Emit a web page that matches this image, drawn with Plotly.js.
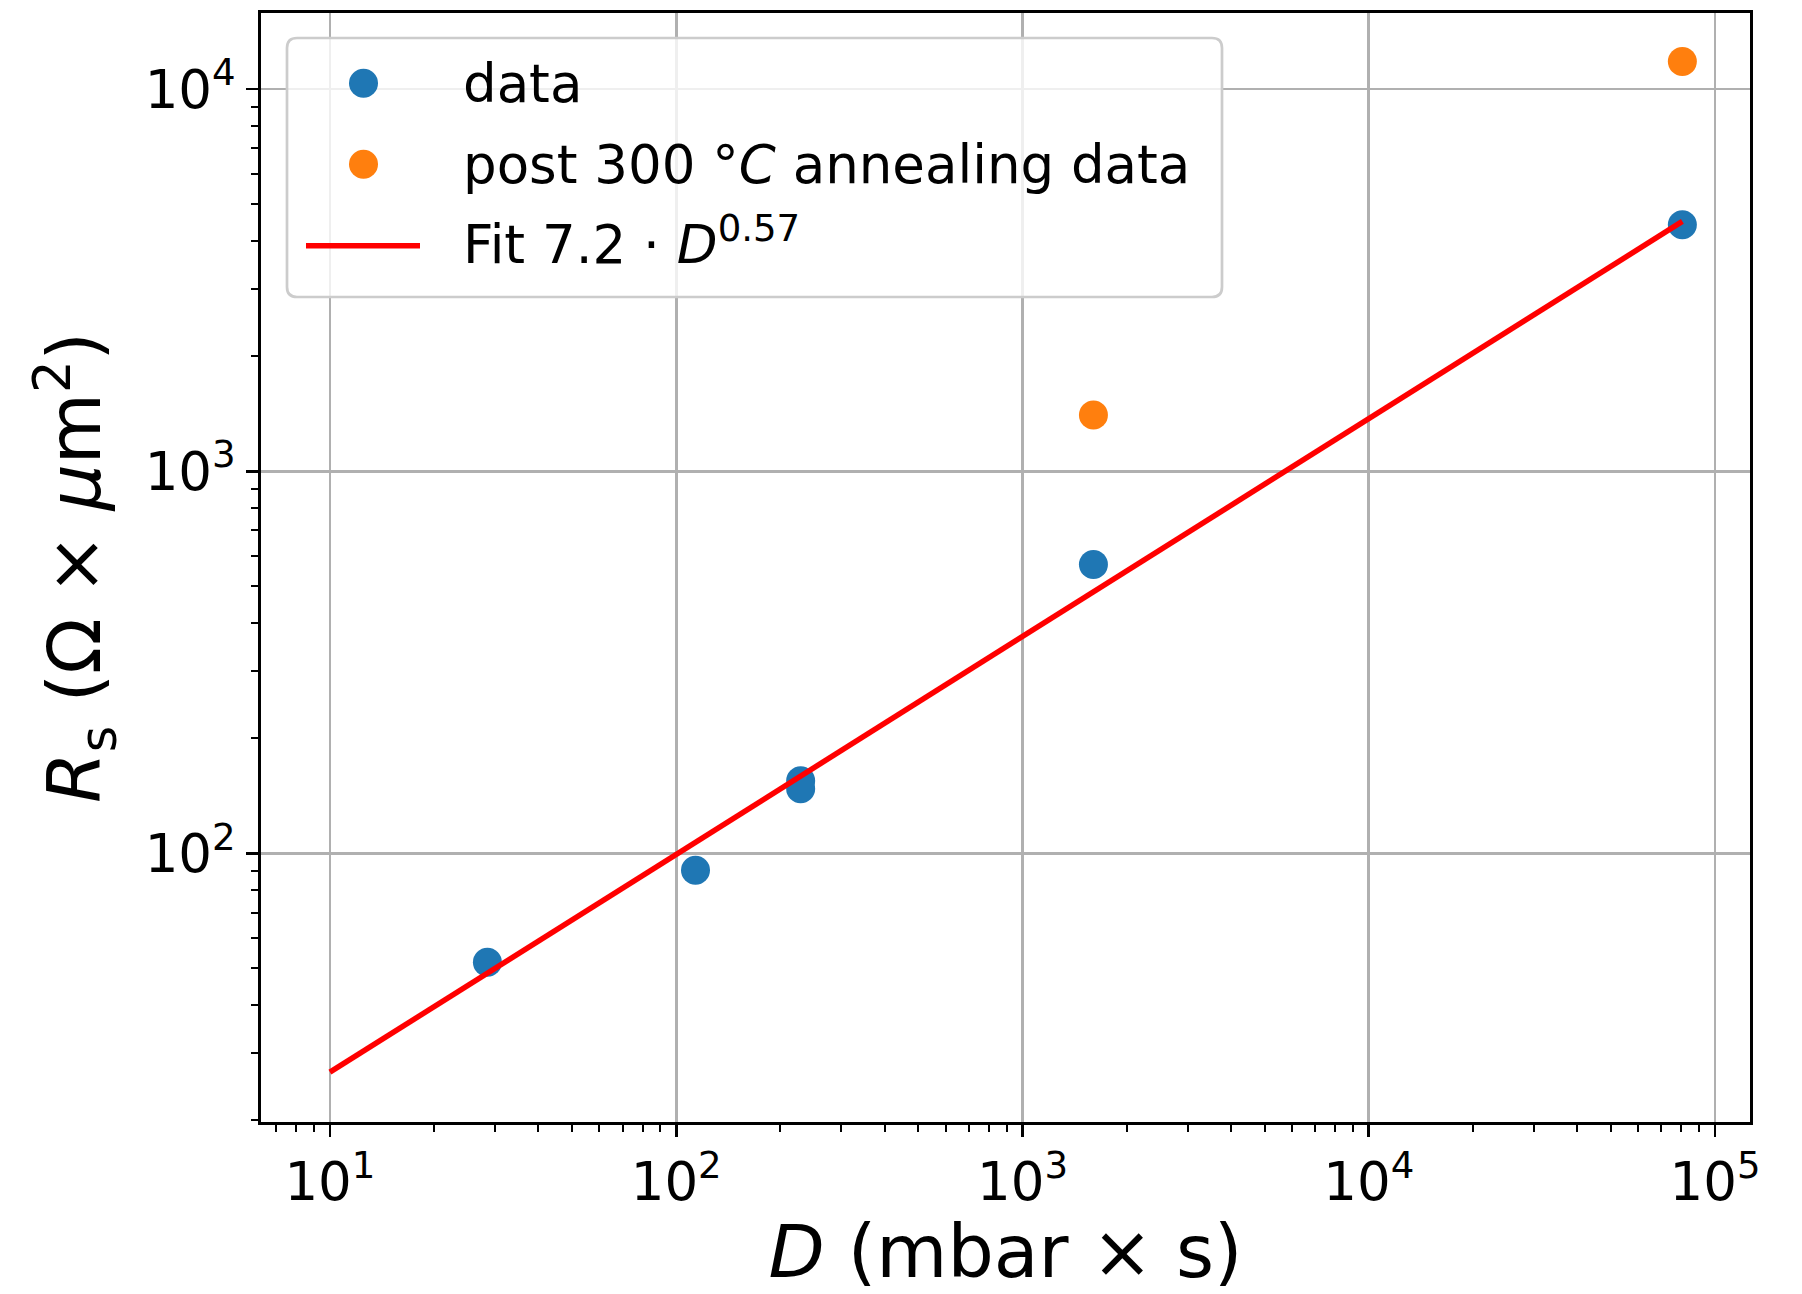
<!DOCTYPE html>
<html>
<head>
<meta charset="utf-8">
<script src="https://cdn.plot.ly/plotly-3.0.1.min.js"></script>
<style>
  html, body { margin: 0; padding: 0; background: #ffffff; }
  #chart { width: 1802px; height: 1294px; }
</style>
</head>
<body>
<div id="chart"></div>
<script>
// Sheet resistance vs. oxidation dose
const doseData = [28.5, 113.7, 228.8, 228.8, 1603, 80470];
const rsData = [51.9, 90.3, 154.8, 147.5, 570, 4416];

const doseAnnealed = [1603, 80470];
const rsAnnealed = [1404, 11810];

// Power-law fit Rs = 7.2 * D^0.57, drawn over the dose range below
const fitCoef = 7.2;
const fitExp = 0.57;
const fitDoseRange = [10, 80470];
const fitRs = fitDoseRange.map(d => fitCoef * Math.pow(d, fitExp));

// Axis ticks
const xTickVals = [10, 100, 1000, 10000, 100000];
const xTickText = ['10<sup>1</sup>', '10<sup>2</sup>', '10<sup>3</sup>', '10<sup>4</sup>', '10<sup>5</sup>'];
const yTickVals = [100, 1000, 10000];
const yTickText = ['10<sup>2</sup>', '10<sup>3</sup>', '10<sup>4</sup>'];

// Legend labels
const legendLabels = ['data', 'post 300 °<i>C</i> annealing data', 'Fit 7.2 · <i>D</i><sup>0.57</sup>'];

function minorLogTicks(loExp, hiExp) {
  const vals = [];
  for (let e = loExp; e <= hiExp; e++) {
    for (let m = 2; m <= 9; m++) vals.push(m * Math.pow(10, e));
  }
  return vals;
}

const FONT = 'DejaVu Sans, Verdana, sans-serif';
const BLUE = '#1f77b4';
const ORANGE = '#ff7f0e';
const RED = '#ff0000';
const MARKER_SIZE = 29;

const traces = [
  {
    x: doseData, y: rsData, type: 'scatter', mode: 'markers',
    name: legendLabels[0],
    marker: { color: BLUE, size: MARKER_SIZE }
  },
  {
    x: doseAnnealed, y: rsAnnealed, type: 'scatter', mode: 'markers',
    name: legendLabels[1],
    marker: { color: ORANGE, size: MARKER_SIZE }
  },
  {
    x: fitDoseRange, y: fitRs, type: 'scatter', mode: 'lines',
    name: legendLabels[2],
    line: { color: RED, width: 5.5 }
  }
];

const W = 1802, H = 1294;
const M = { l: 261, r: 52, t: 13, b: 172 };
const plotW = W - M.l - M.r;
const plotH = H - M.t - M.b;

// pixel position on the page -> paper fraction
const px = x => (x - M.l) / plotW;
const py = y => (H - M.b - y) / plotH;

// ---- legend box (rounded, semi-transparent) ----
const box = { l: 287, r: 1222, t: 38, b: 297, rad: 10 };
const rx = box.rad / plotW, ry = box.rad / plotH;
const L = px(box.l), R = px(box.r), T = py(box.t), B = py(box.b);
const boxPath =
  `M ${L + rx},${T} L ${R - rx},${T} Q ${R},${T} ${R},${T - ry} ` +
  `L ${R},${B + ry} Q ${R},${B} ${R - rx},${B} ` +
  `L ${L + rx},${B} Q ${L},${B} ${L},${B + ry} ` +
  `L ${L},${T - ry} Q ${L},${T} ${L + rx},${T} Z`;

const rowY = [83.3, 164.3, 245.7];
const rowTextShift = [0, 0, 5];
const symX = 363.5;
const lineX = [306, 420];
const textX = 461;

const shapes = [
  {
    type: 'path', xref: 'paper', yref: 'paper', path: boxPath,
    fillcolor: 'rgba(255,255,255,0.8)',
    line: { color: '#cccccc', width: 2.7 }, layer: 'above'
  }
];
[traces[0], traces[1]].forEach((tr, i) => {
  const r = MARKER_SIZE / 2;
  shapes.push({
    type: 'circle', xref: 'paper', yref: 'paper', layer: 'above',
    x0: px(symX - r), x1: px(symX + r), y0: py(rowY[i] + r), y1: py(rowY[i] - r),
    fillcolor: tr.marker.color, line: { width: 0 }
  });
});
shapes.push({
  type: 'line', xref: 'paper', yref: 'paper', layer: 'above',
  x0: px(lineX[0]), x1: px(lineX[1]), y0: py(rowY[2]), y1: py(rowY[2]),
  line: { color: traces[2].line.color, width: 5.5 }
});

const annotations = traces.map((tr, i) => ({
  xref: 'paper', yref: 'paper',
  x: px(textX), y: py(rowY[i]), xanchor: 'left', yanchor: 'middle',
  yshift: rowTextShift[i],
  text: tr.name, showarrow: false,
  font: { family: FONT, size: 53, color: '#000000' }
}));

const axisCommon = {
  type: 'log',
  showline: true, linecolor: '#000000', linewidth: 2.7, mirror: true,
  ticks: 'outside', ticklen: 12, tickwidth: 2.7, tickcolor: '#000000',
  showgrid: true, gridcolor: '#b0b0b0', gridwidth: 2.7,
  zeroline: false,
  tickmode: 'array',
  tickfont: { family: FONT, size: 53, color: '#000000' }
};

const layout = {
  width: W, height: H,
  margin: M,
  paper_bgcolor: '#ffffff', plot_bgcolor: '#ffffff',
  font: { family: FONT, color: '#000000' },
  showlegend: false,
  xaxis: Object.assign({}, axisCommon, {
    range: [0.801, 5.101],
    tickvals: xTickVals, ticktext: xTickText,
    minor: { tickmode: 'array', tickvals: minorLogTicks(0, 4), ticks: 'outside', ticklen: 7, tickwidth: 2, tickcolor: '#000000', showgrid: false },
    title: { text: '<i>D</i> (mbar × s)', font: { family: FONT, size: 73, color: '#000000' }, standoff: 10 }
  }),
  yaxis: Object.assign({}, axisCommon, {
    range: [1.297, 4.199],
    tickvals: yTickVals, ticktext: yTickText,
    minor: { tickmode: 'array', tickvals: minorLogTicks(1, 4), ticks: 'outside', ticklen: 7, tickwidth: 2, tickcolor: '#000000', showgrid: false },
    title: { text: '<i>R</i><sub>s</sub> (Ω × <i>μ</i>m<sup>2</sup>)', font: { family: FONT, size: 73, color: '#000000' }, standoff: 20 }
  }),
  shapes: shapes,
  annotations: annotations
};

Plotly.newPlot('chart', traces, layout, { displayModeBar: false, staticPlot: true });
</script>
</body>
</html>
